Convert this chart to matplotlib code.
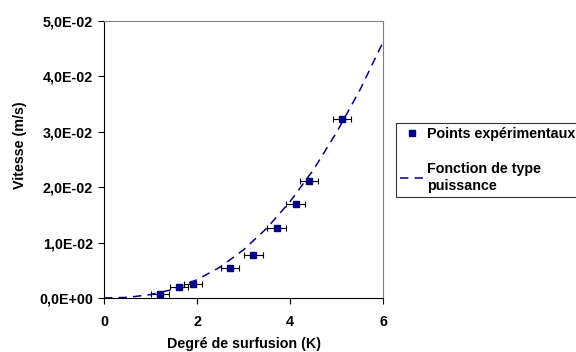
import matplotlib.pyplot as plt
from matplotlib.ticker import FuncFormatter

plt.rcParams['font.family'] = ['Liberation Sans', 'DejaVu Sans']
plt.rcParams['font.weight'] = 'bold'

# measured points (undercooling K, speed m/s)
surfusion = [1.20, 1.61, 1.91, 2.71, 3.21, 3.71, 4.12, 4.41, 5.12]
vitesse = [0.0008, 0.0019, 0.0026, 0.0055, 0.0077, 0.0126, 0.0170, 0.0211, 0.0324]
err_x = [0.2, 0.2, 0.2, 0.2, 0.2, 0.2, 0.2, 0.2, 0.2]

# power-law curve
fit_x = [0, 0.5, 1, 1.5, 2, 2.5, 3, 3.5, 4, 4.5, 5, 5.5, 6]
fit_y = [0, 0.00011, 0.00061, 0.0016, 0.0033, 0.0056, 0.0087, 0.0126,
         0.0174, 0.0231, 0.0299, 0.0375, 0.0462]

navy = '#000080'

fig = plt.figure(figsize=(5.76, 3.52), dpi=100)
ax = fig.add_axes([0.1806, 0.1534, 0.4844, 0.7869])

ax.errorbar(surfusion, vitesse, xerr=err_x, fmt='none', ecolor='black',
            elinewidth=0.8, capsize=2.5, capthick=0.8, zorder=2)
pts, = ax.plot(surfusion, vitesse, 's', color=navy, markersize=4.3, zorder=3,
               label='Points expérimentaux')
fit, = ax.plot(fit_x, fit_y, color=navy, lw=1.1, dashes=(5.5, 4), zorder=2,
               label='Fonction de type\npuissance')

ax.set_xlim(0, 6)
ax.set_ylim(0, 0.05)
ax.set_xticks([0, 2, 4, 6])
ax.set_yticks([0, 0.01, 0.02, 0.03, 0.04, 0.05])
ax.yaxis.set_major_formatter(FuncFormatter(
    lambda v, p: '{:.1E}'.format(v).replace('.', ',')))
ax.tick_params(labelsize=10.3, length=4, width=0.8, direction='out', pad=4)
ax.tick_params(axis='x', pad=8)

ax.spines['top'].set_color('#808080')
ax.spines['right'].set_color('#808080')
for s in ax.spines.values():
    s.set_linewidth(0.8)

ax.set_xlabel('Degré de surfusion (K)', fontsize=10.3, fontweight='bold')
ax.set_ylabel('Vitesse (m/s)', fontsize=10.3, fontweight='bold')
ax.xaxis.set_label_coords(0.5, -0.14)
ax.yaxis.set_label_coords(-0.275, 0.552)

leg = fig.legend(handles=[pts, fit], loc='upper left',
                 bbox_to_anchor=(396 / 576, 1 - 122.7 / 352),
                 fontsize=10.3, frameon=True, fancybox=False,
                 handlelength=1.6, handletextpad=0.3, labelspacing=1.5,
                 borderpad=0.3, borderaxespad=0)
leg.get_frame().set_edgecolor('black')
leg.get_frame().set_linewidth(0.8)

fig.savefig('out.png', dpi=100)
